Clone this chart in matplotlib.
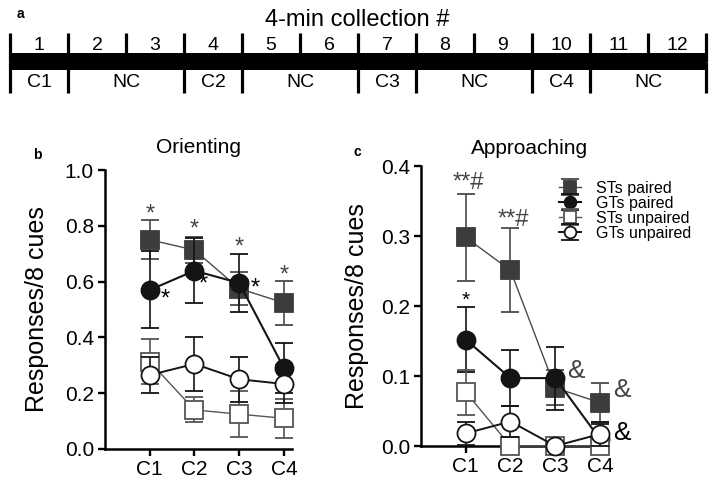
import numpy as np
import matplotlib
matplotlib.use('Agg')
import matplotlib.pyplot as plt

plt.rcParams['font.family'] = ['Liberation Sans', 'DejaVu Sans']

# ---- data ----
collections = [str(i) for i in range(1, 13)]
groups = ['C1', 'NC', 'C2', 'NC', 'C3', 'NC', 'C4', 'NC']
group_sizes = [1, 2, 1, 2, 1, 2, 1, 2]

cues = ['C1', 'C2', 'C3', 'C4']
series = ['STs paired', 'GTs paired', 'STs unpaired', 'GTs unpaired']

# Orienting (panel b)
orient_st_paired = [0.75, 0.713, 0.575, 0.524]
orient_st_paired_err = [0.07, 0.048, 0.058, 0.079]
orient_gt_paired = [0.57, 0.639, 0.595, 0.29]
orient_gt_paired_err = [0.138, 0.116, 0.105, 0.09]
orient_st_unpaired = [0.313, 0.14, 0.125, 0.11]
orient_st_unpaired_err = [0.081, 0.045, 0.082, 0.07]
orient_gt_unpaired = [0.265, 0.305, 0.25, 0.233]
orient_gt_unpaired_err = [0.065, 0.096, 0.08, 0.068]

# Approaching (panel c)
approach_st_paired = [0.298, 0.251, 0.083, 0.062]
approach_st_paired_err = [0.062, 0.06, 0.025, 0.028]
approach_gt_paired = [0.152, 0.097, 0.097, 0.01]
approach_gt_paired_err = [0.046, 0.04, 0.045, 0.022]
approach_st_unpaired = [0.077, 0.0, 0.0, 0.0]
approach_st_unpaired_err = [0.032, 0.0, 0.0, 0.0]
approach_gt_unpaired = [0.018, 0.035, 0.0, 0.017]
approach_gt_unpaired_err = [0.017, 0.022, 0.0, 0.017]

# significance marks: text, x position, baseline y, color, size
orient_marks = [('*', 1.0, 0.818, '#444444', 17), ('*', 2.0, 0.764, '#444444', 17),
                ('*', 3.0, 0.70, '#444444', 17), ('*', 4.0, 0.599, '#444444', 17),
                ('*', 1.34, 0.515, 'black', 17), ('*', 2.2, 0.568, 'black', 17),
                ('*', 3.35, 0.552, 'black', 17)]
approach_marks = [('**#', 1.05, 0.367, '#444444', 17), ('**#', 2.07, 0.314, '#444444', 17),
                  ('*', 1.0, 0.2, 'black', 15),
                  ('&', 3.47, 0.0975, '#444444', 19), ('&', 4.48, 0.0707, '#444444', 19),
                  ('&', 4.48, 0.0086, 'black', 19)]

# ---- styles ----
styles = [
    dict(marker='s', mfc='#3c3c3c', mec='#3c3c3c', color='#4a4a4a', lw=1.0),
    dict(marker='o', mfc='#141414', mec='#141414', color='#141414', lw=1.5),
    dict(marker='s', mfc='white', mec='#555555', color='#555555', lw=1.0),
    dict(marker='o', mfc='white', mec='#141414', color='#141414', lw=1.4),
]

W, H = 715, 483
fig = plt.figure(figsize=(W / 100, H / 100), dpi=100)


def px_axes(left, top, right, bottom):
    return fig.add_axes([left / W, 1 - bottom / H, (right - left) / W, (bottom - top) / H])


# ---- panel a: collection schedule ----
ax_a = px_axes(10, 33, 706, 93)
ax_a.set_xlim(0, len(collections))
ax_a.set_ylim(0, 1)
ax_a.axis('off')
ax_a.axhspan(0.383, 0.667, color='black', lw=0)
for i in range(len(collections) + 1):
    ax_a.plot([i, i], [0.52, 1], color='black', lw=2.3, solid_capstyle='butt', clip_on=False)
bounds = np.concatenate([[0], np.cumsum(group_sizes)])
for b in bounds:
    ax_a.plot([b, b], [0, 0.52], color='black', lw=2.3, solid_capstyle='butt', clip_on=False)
for i, lab in enumerate(collections):
    ax_a.text(i + 0.5, 0.8, lab, ha='center', va='center', fontsize=14)
for g, s, e in zip(groups, bounds[:-1], bounds[1:]):
    ax_a.text((s + e) / 2, 0.18, g, ha='center', va='center', fontsize=14)

fig.text(357 / W, 1 - 20 / H, '4-min collection #', ha='center', va='center', fontsize=17)
fig.text(20 / W, 1 - 14 / H, 'a', ha='center', va='center', fontsize=10, fontweight='bold')


# ---- panels b, c ----
def draw_panel(ax, means, errs, marks, ymax, title, title_x, title_y):
    x = np.arange(1, len(cues) + 1)
    for z, (m, e, st) in enumerate(zip(means, errs, styles)):
        cont = ax.errorbar(x, m, yerr=e, fmt='-', marker=st['marker'], ms=13,
                           mfc=st['mfc'], mec=st['mec'], mew=1.3, color=st['color'],
                           lw=st['lw'], ecolor=st['color'], elinewidth=1.2,
                           capsize=6.5, capthick=1.2, zorder=3 + z, label=series[z])
        for child in cont.get_children():
            child.set_clip_on(False)
    for txt, tx, ty, col, fs in marks:
        ax.text(tx, ty, txt, ha='center', va='baseline', color=col, fontsize=fs, zorder=10)

    ax.set_xlim(0, 4.18)
    ax.set_ylim(0, ymax)
    ax.set_xticks(x)
    ax.set_xticklabels(cues)
    ax.set_yticks(np.linspace(0, ymax, 5 if ymax < 0.5 else 6))
    ax.yaxis.set_major_formatter(matplotlib.ticker.FormatStrFormatter('%.1f'))
    for sp in ['top', 'right']:
        ax.spines[sp].set_visible(False)
    for sp in ['left', 'bottom']:
        ax.spines[sp].set_linewidth(1.8)
    ax.tick_params(length=5, width=1.7, labelsize=15, direction='out', pad=3)
    ax.set_ylabel('Responses/8 cues', fontsize=18)
    ax.text(title_x, title_y, title, transform=ax.transAxes, ha='center', va='center', fontsize=15)


ax_b = px_axes(105, 170, 292, 449)
draw_panel(ax_b,
           [orient_st_paired, orient_gt_paired, orient_st_unpaired, orient_gt_unpaired],
           [orient_st_paired_err, orient_gt_paired_err, orient_st_unpaired_err, orient_gt_unpaired_err],
           orient_marks, 1.0, 'Orienting', 0.5, 1.079)
ax_b.yaxis.set_label_coords(-0.30, 0.5)

ax_c = px_axes(421, 166, 608, 446)
draw_panel(ax_c,
           [approach_st_paired, approach_gt_paired, approach_st_unpaired, approach_gt_unpaired],
           [approach_st_paired_err, approach_gt_paired_err, approach_st_unpaired_err, approach_gt_unpaired_err],
           approach_marks, 0.4, 'Approaching', 0.58, 1.064)
ax_c.yaxis.set_label_coords(-0.28, 0.5)

fig.text(37 / W, 1 - 155 / H, 'b', ha='center', va='center', fontsize=10, fontweight='bold')
fig.text(357 / W, 1 - 152 / H, 'c', ha='center', va='center', fontsize=10, fontweight='bold')

handles, labels = ax_c.get_legend_handles_labels()
ax_c.legend(handles, labels, loc='center left', bbox_to_anchor=(559 / W, 1 - 211 / H),
            bbox_transform=fig.transFigure, frameon=False, fontsize=11.5,
            markerscale=0.65, handlelength=1.4, handletextpad=0.9,
            labelspacing=0.0, borderpad=0, borderaxespad=0)

fig.savefig('out.png', dpi=100)
